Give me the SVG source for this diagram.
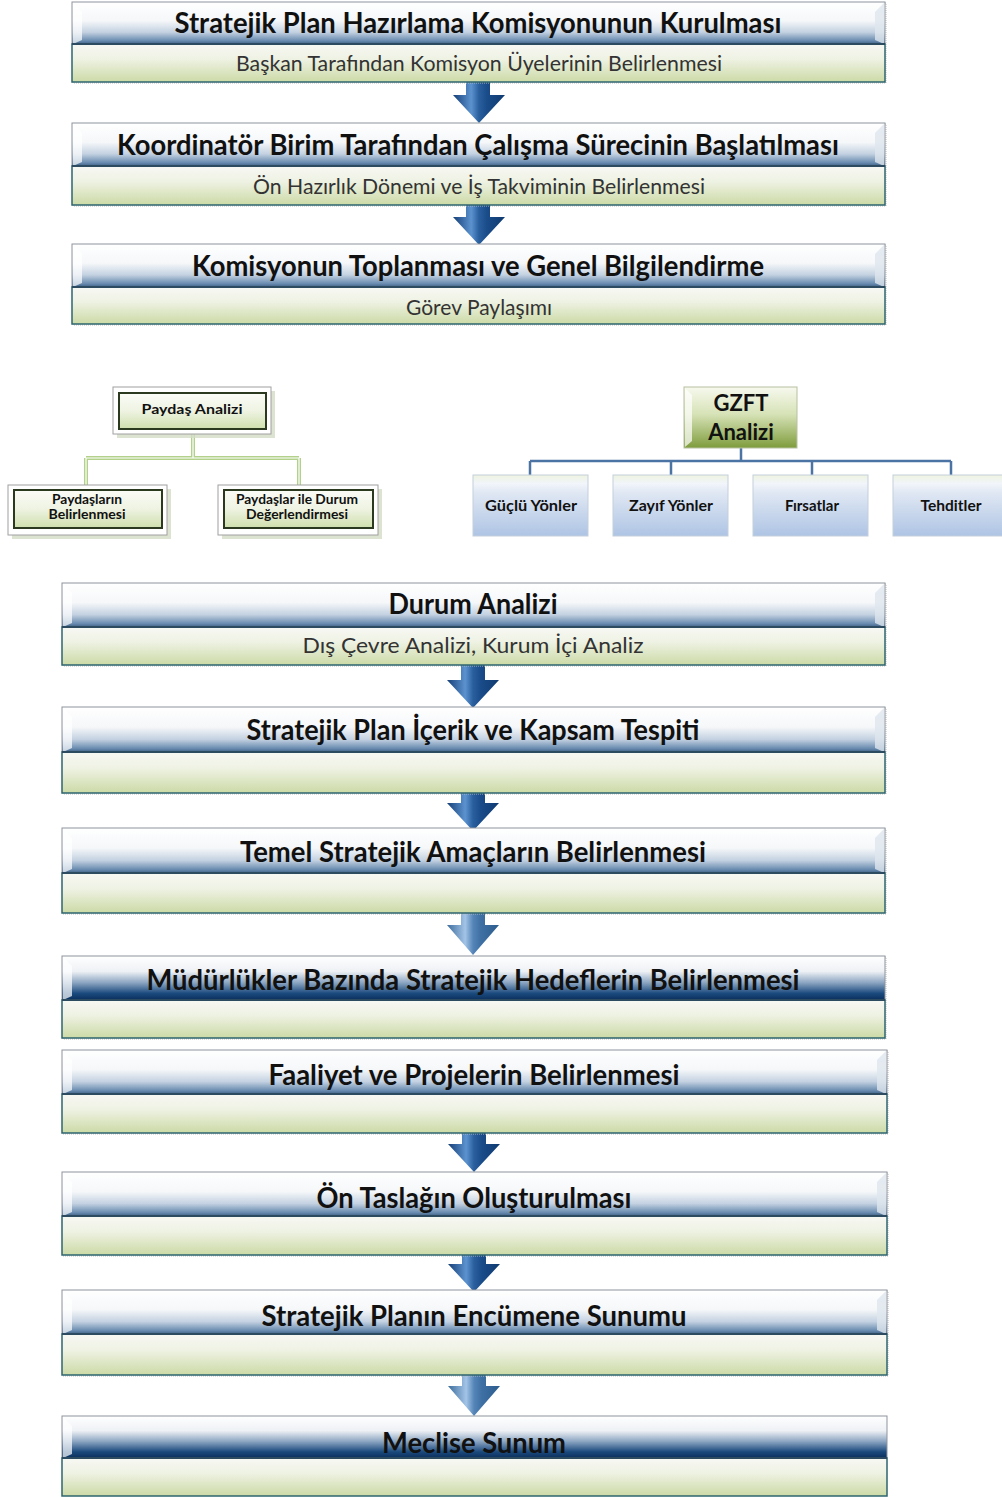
<svg xmlns="http://www.w3.org/2000/svg" width="1002" height="1497" viewBox="0 0 1002 1497">
<defs>
<linearGradient id="gHead" x1="0" y1="0" x2="0" y2="1">
<stop offset="0" stop-color="#ffffff"/>
<stop offset="0.45" stop-color="#f5f7f9"/>
<stop offset="0.72" stop-color="#c3d1e1"/>
<stop offset="0.92" stop-color="#6a8cb0"/>
<stop offset="1" stop-color="#3f6286"/>
</linearGradient>
<linearGradient id="gHeadDark" x1="0" y1="0" x2="0" y2="1">
<stop offset="0" stop-color="#ffffff"/>
<stop offset="0.35" stop-color="#eef1f5"/>
<stop offset="0.6" stop-color="#8ea7c3"/>
<stop offset="0.85" stop-color="#1b4a7e"/>
<stop offset="1" stop-color="#0a2f5c"/>
</linearGradient>
<linearGradient id="gSub" x1="0" y1="0" x2="0" y2="1">
<stop offset="0" stop-color="#f8f8f4"/>
<stop offset="0.4" stop-color="#eef2e3"/>
<stop offset="1" stop-color="#ccdaa6"/>
</linearGradient>
<linearGradient id="gArrow" x1="0" y1="0" x2="1" y2="0">
<stop offset="0" stop-color="#163f78"/>
<stop offset="0.35" stop-color="#5c93cf"/>
<stop offset="0.5" stop-color="#2a5f9e"/>
<stop offset="0.65" stop-color="#1a4c8a"/>
<stop offset="1" stop-color="#0f3a70"/>
</linearGradient>
<linearGradient id="gArrowLight" x1="0" y1="0" x2="1" y2="0">
<stop offset="0" stop-color="#3d6d9e"/>
<stop offset="0.35" stop-color="#a3c4e6"/>
<stop offset="0.5" stop-color="#5585b8"/>
<stop offset="0.65" stop-color="#3f70a4"/>
<stop offset="1" stop-color="#2d5d8e"/>
</linearGradient>
<linearGradient id="gPay" x1="0" y1="0" x2="0" y2="1">
<stop offset="0" stop-color="#fbfcf7"/>
<stop offset="0.5" stop-color="#eef3e2"/>
<stop offset="1" stop-color="#cfdfac"/>
</linearGradient>
<linearGradient id="gGzft" x1="0" y1="0" x2="0" y2="1">
<stop offset="0" stop-color="#f7f9ee"/>
<stop offset="0.45" stop-color="#d6e2b6"/>
<stop offset="1" stop-color="#7e9c3c"/>
</linearGradient>
<linearGradient id="gBlue" x1="0" y1="0" x2="0" y2="1">
<stop offset="0" stop-color="#eef3e0"/>
<stop offset="0.14" stop-color="#f2f5fa"/>
<stop offset="0.3" stop-color="#dfe7f3"/>
<stop offset="1" stop-color="#aec4e4"/>
</linearGradient>
<style>
.hd{stroke:#8d949c;stroke-width:1}
.hdl{stroke:#2c4a60;stroke-width:2}
.sb{fill:url(#gSub);stroke:#2e6570;stroke-width:1.5}
.ht{font-family:Lato,"Open Sans","Liberation Sans",sans-serif;font-weight:700;font-size:29px;fill:#111;text-anchor:middle}
.st{font-family:Lato,"Open Sans","Liberation Sans",sans-serif;font-size:22px;fill:#333;text-anchor:middle}
.sm{font-family:Lato,"Open Sans","Liberation Sans",sans-serif;font-weight:700;fill:#111;text-anchor:middle}
.bev{fill:#ffffff;opacity:0.7}
.bevr{fill:#dfe6ee;opacity:0.8}
.shd{fill:none;stroke:#bcbcbc;stroke-width:1;stroke-dasharray:1 1}
.psh{fill:#d3dcc4;opacity:0.8}
</style>
</defs>
<rect width="1002" height="1497" fill="#ffffff"/>

<g id="connectors">
<path d="M466,82 H490 V95 H505 L479,123 L453,95 H466 Z" fill="url(#gArrow)"/>
<path d="M466,205 H490 V217 H505 L479,245 L453,217 H466 Z" fill="url(#gArrow)"/>
<path d="M461,665 H485 V680 H499 L473,708 L447,680 H461 Z" fill="url(#gArrow)"/>
<path d="M461,793 H485 V803 H499 L473,831 L447,803 H461 Z" fill="url(#gArrow)"/>
<path d="M461,913 H485 V925 H499 L473,955 L447,925 H461 Z" fill="url(#gArrowLight)"/>
<path d="M462,1133 H486 V1144 H500 L474,1172 L448,1144 H462 Z" fill="url(#gArrow)"/>
<path d="M462,1255 H486 V1264 H500 L474,1292 L448,1264 H462 Z" fill="url(#gArrow)"/>
<path d="M462,1375 H486 V1386 H500 L474,1416 L448,1386 H462 Z" fill="url(#gArrowLight)"/>
<g fill="none" stroke="#b3d18a" stroke-width="4">
<path d="M193,434 V458 M86,458 H299 M86,458 V485 M299,458 V485"/>
</g>
<g fill="none" stroke="#ffffff" stroke-width="1.2">
<path d="M193,434 V458 M86,458 H299 M86,458 V485 M299,458 V485"/>
</g>
<path d="M741,448 V461 M530,461 H951 M530,461 V475 M671,461 V475 M812,461 V475 M951,461 V475" fill="none" stroke="#4b73a3" stroke-width="2.5"/>
</g>

<g id="n1">
<rect x="73" y="3" width="813" height="80" class="shd"/>
<rect x="72" y="2" width="813" height="42" fill="url(#gHead)" class="hd"/>
<path d="M73,3 L82,12 V40 L73,44 Z" class="bev"/>
<path d="M884,3 L875,12 V40 L884,44 Z" class="bevr"/>
<rect x="72" y="44" width="813" height="38" class="sb"/>
<line x1="72" y1="44" x2="885" y2="44" class="hdl"/>
<text x="478" y="33" class="ht" textLength="607" lengthAdjust="spacingAndGlyphs">Stratejik Plan Hazırlama Komisyonunun Kurulması</text>
<text x="479" y="71" class="st" textLength="486" lengthAdjust="spacingAndGlyphs">Başkan Tarafından Komisyon Üyelerinin Belirlenmesi</text>
</g>

<g id="n2">
<rect x="73" y="124" width="813" height="82" class="shd"/>
<rect x="72" y="123" width="813" height="43" fill="url(#gHead)" class="hd"/>
<path d="M73,124 L82,133 V162 L73,166 Z" class="bev"/>
<path d="M884,124 L875,133 V162 L884,166 Z" class="bevr"/>
<rect x="72" y="166" width="813" height="39" class="sb"/>
<line x1="72" y1="166" x2="885" y2="166" class="hdl"/>
<text x="478" y="155" class="ht" textLength="722" lengthAdjust="spacingAndGlyphs">Koordinatör Birim Tarafından Çalışma Sürecinin Başlatılması</text>
<text x="479" y="194" class="st" textLength="452" lengthAdjust="spacingAndGlyphs">Ön Hazırlık Dönemi ve İş Takviminin Belirlenmesi</text>
</g>

<g id="n3">
<rect x="73" y="245" width="813" height="80" class="shd"/>
<rect x="72" y="244" width="813" height="43" fill="url(#gHead)" class="hd"/>
<path d="M73,245 L82,254 V283 L73,287 Z" class="bev"/>
<path d="M884,245 L875,254 V283 L884,287 Z" class="bevr"/>
<rect x="72" y="287" width="813" height="37" class="sb"/>
<line x1="72" y1="287" x2="885" y2="287" class="hdl"/>
<text x="478" y="276" class="ht" textLength="572" lengthAdjust="spacingAndGlyphs">Komisyonun Toplanması ve Genel Bilgilendirme</text>
<text x="479" y="315" class="st" textLength="146" lengthAdjust="spacingAndGlyphs">Görev Paylaşımı</text>
</g>

<g id="paydas">
<rect x="117" y="391" width="158" height="47" class="psh"/>
<rect x="113" y="387" width="158" height="47" fill="#ffffff" stroke="#a0a0a0" stroke-width="1"/>
<rect x="119" y="393" width="147" height="36" fill="url(#gPay)" stroke="#2b3a1e" stroke-width="2"/>
<text x="192" y="414" class="sm" font-size="14" textLength="101" lengthAdjust="spacingAndGlyphs">Paydaş Analizi</text>
</g>
<g id="paydas1">
<rect x="12" y="489" width="159" height="50" class="psh"/>
<rect x="8" y="485" width="159" height="50" fill="#ffffff" stroke="#a0a0a0" stroke-width="1"/>
<rect x="14" y="490" width="148" height="38" fill="url(#gPay)" stroke="#2b3a1e" stroke-width="2"/>
<text x="87" y="504" class="sm" font-size="13" textLength="70" lengthAdjust="spacingAndGlyphs">Paydaşların</text>
<text x="87" y="519" class="sm" font-size="13" textLength="77" lengthAdjust="spacingAndGlyphs">Belirlenmesi</text>
</g>
<g id="paydas2">
<rect x="222" y="489" width="160" height="50" class="psh"/>
<rect x="218" y="485" width="160" height="50" fill="#ffffff" stroke="#a0a0a0" stroke-width="1"/>
<rect x="224" y="490" width="149" height="38" fill="url(#gPay)" stroke="#2b3a1e" stroke-width="2"/>
<text x="297" y="504" class="sm" font-size="13" textLength="122" lengthAdjust="spacingAndGlyphs">Paydaşlar ile Durum</text>
<text x="297" y="519" class="sm" font-size="13" textLength="102" lengthAdjust="spacingAndGlyphs">Değerlendirmesi</text>
</g>

<g id="gzft">
<rect x="684" y="387" width="113" height="61" fill="url(#gGzft)" stroke="#b8c0a0" stroke-width="1"/>
<path d="M685,388 L692,395 V441 L685,447 Z" class="bev"/>
<text x="741" y="411" class="sm" font-size="22">GZFT</text>
<text x="741" y="440" class="sm" font-size="22">Analizi</text>
</g>
<g id="guclu">
<rect x="473" y="475" width="115" height="61" fill="url(#gBlue)" stroke="#c4cfdc" stroke-width="1"/>
<text x="531" y="511" class="sm" font-size="15" textLength="92" lengthAdjust="spacingAndGlyphs">Güçlü Yönler</text>
</g>
<g id="zayif">
<rect x="613" y="475" width="115" height="61" fill="url(#gBlue)" stroke="#c4cfdc" stroke-width="1"/>
<text x="671" y="511" class="sm" font-size="15" textLength="84" lengthAdjust="spacingAndGlyphs">Zayıf Yönler</text>
</g>
<g id="firsat">
<rect x="753" y="475" width="115" height="61" fill="url(#gBlue)" stroke="#c4cfdc" stroke-width="1"/>
<text x="812" y="511" class="sm" font-size="15" textLength="54" lengthAdjust="spacingAndGlyphs">Fırsatlar</text>
</g>
<g id="tehdit">
<rect x="893" y="475" width="115" height="61" fill="url(#gBlue)" stroke="#c4cfdc" stroke-width="1"/>
<text x="951" y="511" class="sm" font-size="15" textLength="61" lengthAdjust="spacingAndGlyphs">Tehditler</text>
</g>

<g id="n4">
<rect x="63" y="584" width="823" height="82" class="shd"/>
<rect x="62" y="583" width="823" height="44" fill="url(#gHead)" class="hd"/>
<path d="M63,584 L72,593 V623 L63,627 Z" class="bev"/>
<path d="M884,584 L875,593 V623 L884,627 Z" class="bevr"/>
<rect x="62" y="627" width="823" height="38" class="sb"/>
<line x1="62" y1="627" x2="885" y2="627" class="hdl"/>
<text x="473" y="614" class="ht" textLength="169" lengthAdjust="spacingAndGlyphs">Durum Analizi</text>
<text x="473" y="653" class="st" textLength="341" lengthAdjust="spacingAndGlyphs">Dış Çevre Analizi, Kurum İçi Analiz</text>
</g>

<g id="n5">
<rect x="63" y="708" width="823" height="86" class="shd"/>
<rect x="62" y="707" width="823" height="45" fill="url(#gHead)" class="hd"/>
<path d="M63,708 L72,717 V748 L63,752 Z" class="bev"/>
<path d="M884,708 L875,717 V748 L884,752 Z" class="bevr"/>
<rect x="62" y="752" width="823" height="41" class="sb"/>
<line x1="62" y1="752" x2="885" y2="752" class="hdl"/>
<text x="473" y="740" class="ht" textLength="453" lengthAdjust="spacingAndGlyphs">Stratejik Plan İçerik ve Kapsam Tespiti</text>
</g>

<g id="n6">
<rect x="63" y="829" width="823" height="85" class="shd"/>
<rect x="62" y="828" width="823" height="45" fill="url(#gHead)" class="hd"/>
<path d="M63,829 L72,838 V869 L63,873 Z" class="bev"/>
<path d="M884,829 L875,838 V869 L884,873 Z" class="bevr"/>
<rect x="62" y="873" width="823" height="40" class="sb"/>
<line x1="62" y1="873" x2="885" y2="873" class="hdl"/>
<text x="473" y="862" class="ht" textLength="466" lengthAdjust="spacingAndGlyphs">Temel Stratejik Amaçların Belirlenmesi</text>
</g>

<g id="n7">
<rect x="63" y="957" width="823" height="82" class="shd"/>
<rect x="62" y="956" width="823" height="44" fill="url(#gHeadDark)" class="hd"/>
<path d="M63,957 L72,966 V996 L63,1000 Z" class="bev"/>
<rect x="62" y="1000" width="823" height="38" class="sb"/>
<line x1="62" y1="1000" x2="885" y2="1000" class="hdl"/>
<text x="473" y="990" class="ht" textLength="653" lengthAdjust="spacingAndGlyphs">Müdürlükler Bazında Stratejik Hedeflerin Belirlenmesi</text>
</g>

<g id="n8">
<rect x="63" y="1051" width="825" height="83" class="shd"/>
<rect x="62" y="1050" width="825" height="44" fill="url(#gHead)" class="hd"/>
<path d="M63,1051 L72,1060 V1090 L63,1094 Z" class="bev"/>
<path d="M886,1051 L877,1060 V1090 L886,1094 Z" class="bevr"/>
<rect x="62" y="1094" width="825" height="39" class="sb"/>
<line x1="62" y1="1094" x2="887" y2="1094" class="hdl"/>
<text x="474" y="1085" class="ht" textLength="411" lengthAdjust="spacingAndGlyphs">Faaliyet ve Projelerin Belirlenmesi</text>
</g>

<g id="n9">
<rect x="63" y="1173" width="825" height="83" class="shd"/>
<rect x="62" y="1172" width="825" height="44" fill="url(#gHead)" class="hd"/>
<path d="M63,1173 L72,1182 V1212 L63,1216 Z" class="bev"/>
<path d="M886,1173 L877,1182 V1212 L886,1216 Z" class="bevr"/>
<rect x="62" y="1216" width="825" height="39" class="sb"/>
<line x1="62" y1="1216" x2="887" y2="1216" class="hdl"/>
<text x="474" y="1208" class="ht" textLength="315" lengthAdjust="spacingAndGlyphs">Ön Taslağın Oluşturulması</text>
</g>

<g id="n10">
<rect x="63" y="1291" width="825" height="85" class="shd"/>
<rect x="62" y="1290" width="825" height="44" fill="url(#gHead)" class="hd"/>
<path d="M63,1291 L72,1300 V1330 L63,1334 Z" class="bev"/>
<path d="M886,1291 L877,1300 V1330 L886,1334 Z" class="bevr"/>
<rect x="62" y="1334" width="825" height="41" class="sb"/>
<line x1="62" y1="1334" x2="887" y2="1334" class="hdl"/>
<text x="474" y="1326" class="ht" textLength="425" lengthAdjust="spacingAndGlyphs">Stratejik Planın Encümene Sunumu</text>
</g>

<g id="n11">
<rect x="62" y="1416" width="825" height="42" fill="url(#gHeadDark)" class="hd"/>
<path d="M63,1417 L72,1426 V1454 L63,1458 Z" class="bev"/>
<rect x="62" y="1458" width="825" height="38" class="sb"/>
<line x1="62" y1="1458" x2="887" y2="1458" class="hdl"/>
<text x="474" y="1453" class="ht" textLength="184" lengthAdjust="spacingAndGlyphs">Meclise Sunum</text>
</g>
</svg>
